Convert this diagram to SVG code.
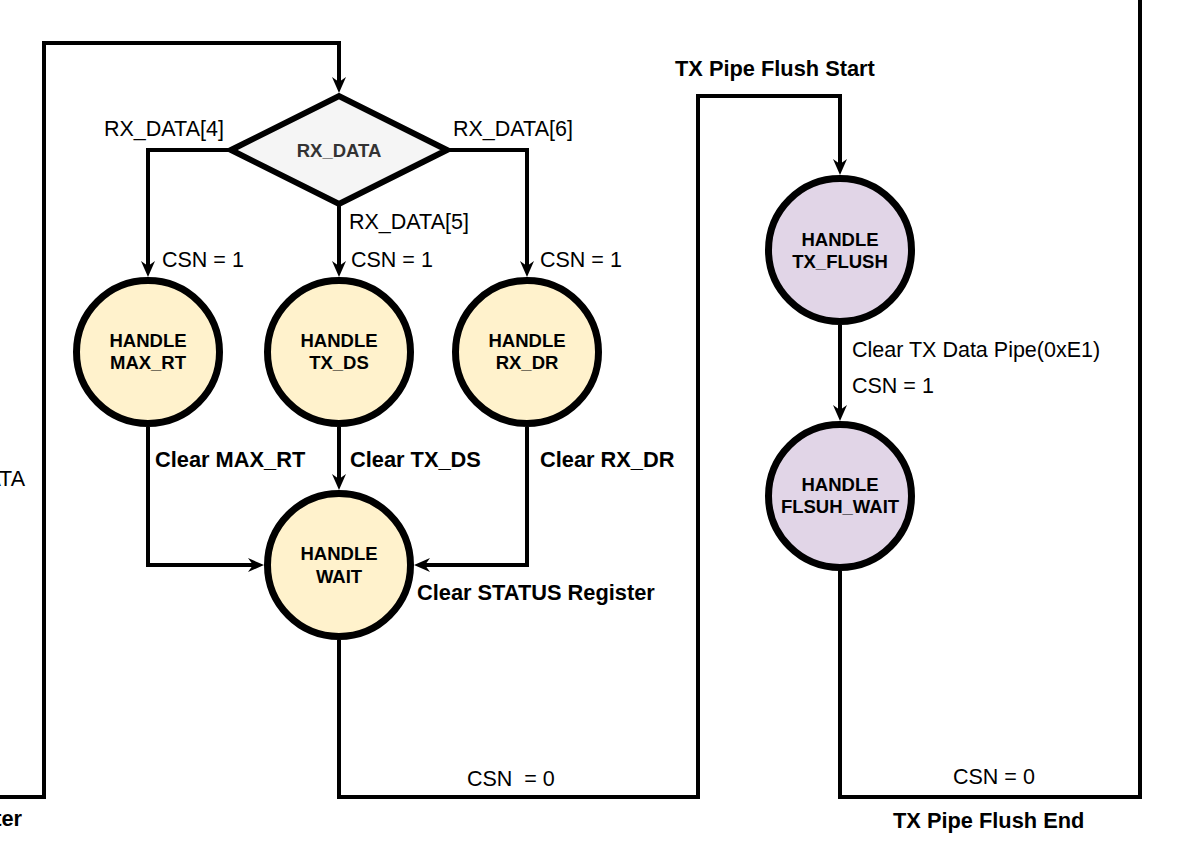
<svg xmlns="http://www.w3.org/2000/svg" width="1191" height="858" viewBox="0 0 1191 858">
<style>
.edge{fill:none;stroke:#000;stroke-width:4;stroke-linejoin:miter}
.arr{marker-end:url(#ah)}
.st{stroke:#000;stroke-width:7}
.y{fill:#fff2cc}
.p{fill:#e1d5e7}
.nt{font-family:"Liberation Sans",Arial,sans-serif;font-size:18.5px;font-weight:bold;fill:#000;text-anchor:middle}
.lb{font-family:"Liberation Sans",Arial,sans-serif;font-size:21.5px;fill:#000;white-space:pre}
.bl{font-family:"Liberation Sans",Arial,sans-serif;font-size:21.8px;font-weight:bold;fill:#000}
</style>
<defs>
<marker id="ah" viewBox="0 0 16 14" refX="6" refY="7" markerWidth="16" markerHeight="14" markerUnits="userSpaceOnUse" orient="auto">
<path d="M0,0 L16,7 L0,14 L5,7 Z" fill="#000"/>
</marker>
</defs>
<rect width="1191" height="858" fill="#fff"/>
<g id="connectors">
<path class="edge arr" d="M0,797 H44 V43 H339 V83"/>
<path class="edge arr" d="M231,150 H148 V267"/>
<path class="edge arr" d="M339,204 V267"/>
<path class="edge arr" d="M447,150 H527 V267"/>
<path class="edge arr" d="M148,427 V565 H254"/>
<path class="edge arr" d="M339,427 V480"/>
<path class="edge arr" d="M527,427 V565 H424"/>
<path class="edge arr" d="M339,640 V797 H698 V96 H840 V165"/>
<path class="edge arr" d="M840,325 V411"/>
<path class="edge" d="M840,571 V797 H1140 V0"/>
</g>
<g id="labels">
<text class="lb" x="104" y="136">RX_DATA[4]</text>
<text class="lb" x="453" y="136">RX_DATA[6]</text>
<text class="lb" x="349" y="229">RX_DATA[5]</text>
<text class="lb" x="162" y="267">CSN = 1</text>
<text class="lb" x="351" y="267">CSN = 1</text>
<text class="lb" x="540" y="267">CSN = 1</text>
<text class="bl" x="155" y="467">Clear MAX_RT</text>
<text class="bl" x="350" y="467">Clear TX_DS</text>
<text class="bl" x="540" y="467">Clear RX_DR</text>
<text class="bl" x="417" y="600">Clear STATUS Register</text>
<text class="bl" x="675" y="76">TX Pipe Flush Start</text>
<text class="lb" x="852" y="357">Clear TX Data Pipe(0xE1)</text>
<text class="lb" x="852" y="393">CSN = 1</text>
<text class="lb" x="467" y="786">CSN  = 0</text>
<text class="lb" x="953" y="784">CSN = 0</text>
<text class="bl" x="893" y="828">TX Pipe Flush End</text>
<text class="lb" x="25" y="486" text-anchor="end">ATA</text>
<text class="bl" x="22" y="826" text-anchor="end">ter</text>
</g>
<g id="rx_data">
<polygon stroke="#000" stroke-width="6" fill="#f5f5f5" points="231,150 339,96 447,150 339,204"/>
<text class="nt" x="339" y="156.5" font-size="18" style="fill:#333">RX_DATA</text>
</g>
<g id="handle_max_rt">
<circle class="st y" cx="148" cy="352" r="71.5"/>
<text class="nt" x="148" y="347">HANDLE</text>
<text class="nt" x="148" y="369">MAX_RT</text>
</g>
<g id="handle_tx_ds">
<circle class="st y" cx="339" cy="352" r="71.5"/>
<text class="nt" x="339" y="347">HANDLE</text>
<text class="nt" x="339" y="369">TX_DS</text>
</g>
<g id="handle_rx_dr">
<circle class="st y" cx="527" cy="352" r="71.5"/>
<text class="nt" x="527" y="347">HANDLE</text>
<text class="nt" x="527" y="369">RX_DR</text>
</g>
<g id="handle_wait">
<circle class="st y" cx="339" cy="565" r="71.5"/>
<text class="nt" x="339" y="560">HANDLE</text>
<text class="nt" x="339" y="583">WAIT</text>
</g>
<g id="handle_tx_flush">
<circle class="st p" cx="840" cy="250" r="71.5"/>
<text class="nt" x="840" y="246">HANDLE</text>
<text class="nt" x="840" y="268">TX_FLUSH</text>
</g>
<g id="handle_flsuh_wait">
<circle class="st p" cx="840" cy="496" r="71.5"/>
<text class="nt" x="840" y="491">HANDLE</text>
<text class="nt" x="840" y="513">FLSUH_WAIT</text>
</g>
</svg>
